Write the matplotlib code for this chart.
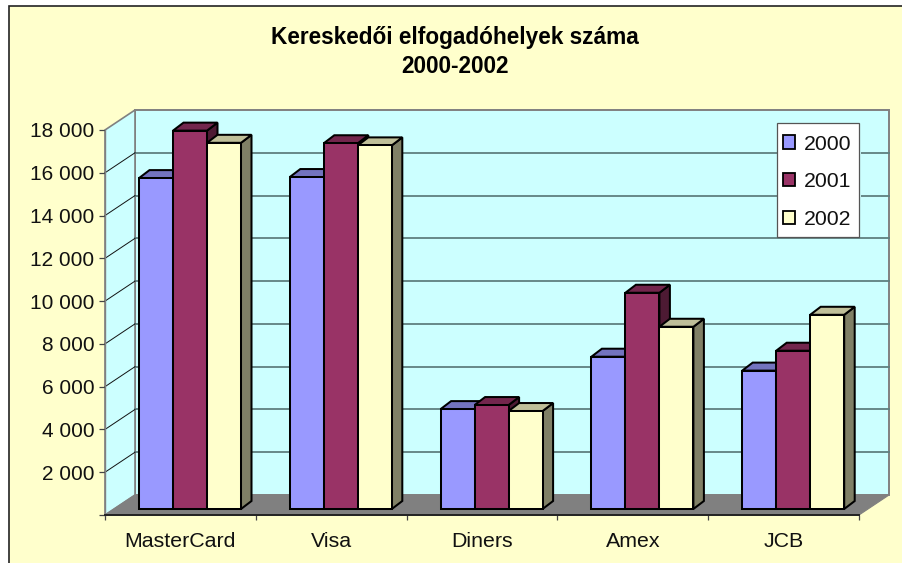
import matplotlib
matplotlib.use("Agg")
import matplotlib.pyplot as plt
from matplotlib.patches import Polygon, Rectangle, Patch
from matplotlib.colors import to_rgb

plt.rcParams['font.family'] = ['Liberation Sans', 'DejaVu Sans']

categories = ["MasterCard", "Visa", "Diners", "Amex", "JCB"]
years = ["2000", "2001", "2002"]
v2000 = [15470, 15520, 4670, 7120, 6470]
v2001 = [17690, 17100, 4860, 10110, 7400]
v2002 = [17120, 17000, 4580, 8520, 9080]
series = [v2000, v2001, v2002]
colors = ["#9999FF", "#993366", "#FFFFCC"]
y_ticks = list(range(0, 18001, 2000))
y_labels = [""] + [f"{t//1000} 000" for t in y_ticks[1:]]
title = "Kereskedői elfogadóhelyek száma\n2000-2002"

W, H = 903, 563
fig = plt.figure(figsize=(W / 100, H / 100), dpi=100, facecolor="white")
fig.add_artist(Rectangle((9.5 / W, -0.05), 1.1, 1.05 - 5.5 / H, transform=fig.transFigure,
                         facecolor="#FFFFCC", edgecolor="#222222", linewidth=1.2, zorder=-5))

L, R, B, T = 105, 859, 515, 130
ax = fig.add_axes([L / W, (H - B) / H, (R - L) / W, (B - T) / H])
ax.set_xlim(0, len(categories))
ax.set_ylim(0, 18000)
ax.patch.set_visible(False)

px = len(categories) / (R - L)   # data units per pixel horizontally
py = 18000 / (B - T)             # data units per pixel vertically
DX, DY = 30 * px, 20 * py        # full depth of the floor
n = len(categories)
top = y_ticks[-1]

def poly(pts, **kw):
    p = Polygon(pts, closed=True, clip_on=False, **kw)
    ax.add_patch(p)

wall = "#CCFFFF"
frame = "#808080"
# back wall, left wall, floor
poly([(DX, DY), (n + DX, DY), (n + DX, top + DY), (DX, top + DY)], facecolor=wall, edgecolor=frame, linewidth=1.4, zorder=1)
poly([(0, 0), (DX, DY), (DX, top + DY), (0, top)], facecolor=wall, edgecolor=frame, linewidth=1.2, zorder=1)
poly([(0, 0), (n, 0), (n + DX, DY), (DX, DY)], facecolor="#808080", edgecolor="#808080", linewidth=0.8, zorder=1.2)

for t in y_ticks[1:-1]:
    ax.plot([DX, n + DX], [t + DY, t + DY], color="#5F7F7F", lw=1.3, clip_on=False, zorder=1.1)
    ax.plot([0, DX], [t, t + DY], color="#111111", lw=0.7, clip_on=False, zorder=1.1)

# bars
GAP = 25 / 150.8
BW = 34 * px
OX, OY = 9 * px, 6 * py        # depth offset of a bar's front face
BDX, BDY = 10.5 * px, 8 * py   # depth of a bar
lw = 1.45

def shade(c, f):
    return tuple(v * f for v in to_rgb(c))

for i in range(n):
    for j, vals in enumerate(series):
        x0 = i + GAP + j * BW + OX
        x1 = x0 + BW
        y0 = OY
        y1 = OY + vals[i]
        c = colors[j]
        kw = dict(edgecolor="black", linewidth=lw, joinstyle="miter", zorder=3)
        poly([(x1, y0), (x1 + BDX, y0 + BDY), (x1 + BDX, y1 + BDY), (x1, y1)], facecolor=shade(c, 0.5), **kw)
        poly([(x0, y1), (x1, y1), (x1 + BDX, y1 + BDY), (x0 + BDX, y1 + BDY)], facecolor=shade(c, 0.75), **kw)
        poly([(x0, y0), (x1, y0), (x1, y1), (x0, y1)], facecolor=c, **kw)

# axes
for s in ("top", "right"):
    ax.spines[s].set_visible(False)
ax.spines["bottom"].set_color("#222222")
ax.spines["bottom"].set_linewidth(1.4)
ax.spines["left"].set_color("#808080")
ax.spines["left"].set_linewidth(1.0)
ax.set_yticks(y_ticks, y_labels)
ax.set_xticks(range(n + 1), [""] * (n + 1))
ax.set_xticks([i + 0.5 for i in range(n)], categories, minor=True)
ax.tick_params(axis="y", length=4.3, width=0.9, color="#444444", pad=3.5, labelsize=15, labelcolor="#111111")
ax.tick_params(axis="x", which="major", length=3.6, width=0.9, color="#444444")
ax.tick_params(axis="x", which="minor", length=0, pad=12, labelsize=15.4, labelcolor="#111111")

fig.text(455 / W, 1 - 52 / H, title, ha="center", va="center", fontsize=16.3, fontweight="bold",
         color="black", linespacing=1.28)

# legend: box drawn separately so its size can follow the original exactly
ax.add_patch(Rectangle((777 / W, 1 - 237 / H), 84 / W, 114 / H, transform=fig.transFigure, clip_on=False,
                       facecolor=wall, edgecolor="none", zorder=5))
ax.add_patch(Rectangle((777 / W, 1 - 237 / H), 82 / W, 114 / H, transform=fig.transFigure, clip_on=False,
                       facecolor="white", edgecolor="#555555", linewidth=0.9, zorder=5.5))
handles = [Patch(facecolor=c, edgecolor="black", linewidth=1.3, label=y) for c, y in zip(colors, years)]
leg = ax.legend(handles=handles, loc="upper right", bbox_to_anchor=(858 / W, 1 - 127.5 / H),
                bbox_transform=fig.transFigure, borderaxespad=0, fontsize=15.3, frameon=False,
                handlelength=0.57, handleheight=0.57,
                handletextpad=0.38, labelspacing=0.89, borderpad=0.33, labelcolor="#111111")
leg.set_zorder(6)

fig.savefig("out.png", dpi=100, facecolor="white")
